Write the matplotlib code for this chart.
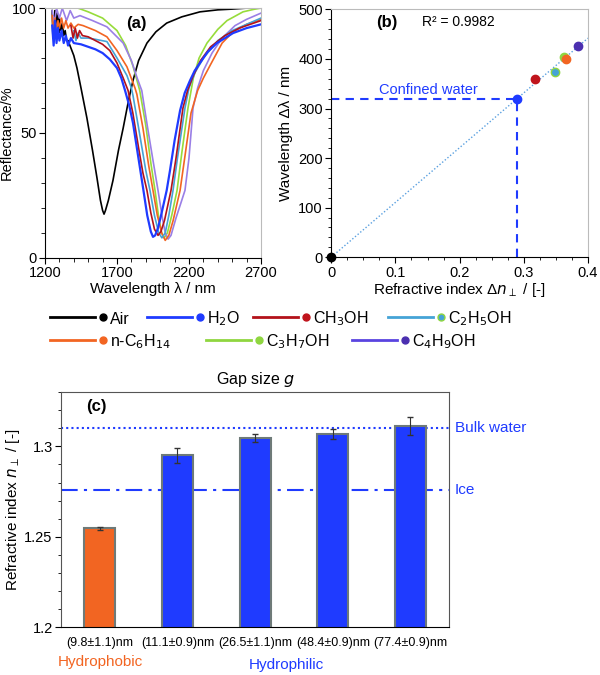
import numpy as np
import matplotlib
matplotlib.use("Agg")
import matplotlib.pyplot as plt
from matplotlib.lines import Line2D

plt.rcParams['font.family'] = ['Liberation Sans', 'DejaVu Sans']

# ---------- data: (a) reflectance spectra ----------
air_wl = [1250, 1255, 1260, 1265, 1270, 1275, 1280, 1285, 1290, 1295, 1300, 1310, 1320, 1330, 1340, 1350,
          1360, 1380, 1400, 1422, 1450, 1491, 1530, 1561, 1585, 1600, 1610, 1620, 1640, 1672, 1710, 1743,
          1780, 1811, 1850, 1908, 1970, 2045, 2150, 2276, 2400, 2500, 2600, 2700]
air_r = [99, 88, 97, 90, 99, 91, 98, 92, 97, 90, 96, 91, 94, 89, 91, 87,
         87, 84, 81, 76, 68, 56, 43, 32, 23, 19, 17.5, 19, 23, 31, 43, 52,
         63, 71, 79, 86, 90.5, 94, 96.5, 98.5, 99.3, 99.6, 100, 100]

h2o_wl = [1250, 1260, 1270, 1280, 1290, 1300, 1315, 1330, 1345, 1360, 1380, 1400, 1450, 1500, 1550, 1600,
          1650, 1700, 1730, 1756, 1785, 1811, 1846, 1881, 1910, 1935, 1950, 1965, 1985, 2010, 2045, 2068,
          2100, 2138, 2170, 2207, 2240, 2276, 2330, 2394, 2506, 2600, 2700]
h2o_r = [93, 85, 95, 86, 92, 87, 91, 86, 89, 85, 88, 86, 85.5, 84.5, 83.5, 82,
         79.5, 76, 72, 67, 61, 54, 41, 28, 17, 10.5, 8.4, 9, 12, 18, 27, 35,
         47, 59, 66, 71, 75, 78, 82.5, 86, 90, 92, 93.5]

meoh_wl = [1380, 1395, 1410, 1425, 1440, 1460, 1500, 1550, 1600, 1650, 1700, 1743, 1777, 1810, 1850, 1880,
           1908, 1935, 1960, 1985, 2005, 2030, 2075, 2110, 2158, 2190, 2230, 2280, 2350, 2450, 2550, 2700]
meoh_r = [93, 88, 92, 88, 91, 89, 88.5, 87, 85.5, 83, 78, 72, 67, 58, 44, 34,
          27, 18, 11.5, 9, 10.5, 15, 27, 40, 60, 67, 73, 79, 84.5, 89, 92, 95]

etoh_wl = [1400, 1415, 1430, 1450, 1500, 1550, 1630, 1700, 1769, 1800, 1811, 1850, 1900, 1929, 1960, 1990,
           2012, 2035, 2060, 2089, 2120, 2172, 2200, 2240, 2300, 2400, 2500, 2600, 2700]
etoh_r = [91, 87, 90, 88, 88, 87.5, 86.6, 80, 73, 68, 65, 52, 35, 27, 17, 10,
          8, 10, 17, 27, 40, 60, 68, 74, 80, 87, 91, 93.5, 96]

hex_wl = [1250, 1260, 1270, 1280, 1290, 1300, 1315, 1330, 1345, 1360, 1380, 1400, 1430, 1464, 1550, 1630,
          1700, 1769, 1825, 1838, 1880, 1920, 1950, 1980, 2010, 2035, 2060, 2090, 2138, 2175, 2214, 2260,
          2300, 2346, 2430, 2506, 2600, 2700]
hex_r = [97, 90, 96, 91, 95, 92, 96, 92, 95, 92, 94, 92, 93.5, 93, 91, 88.5,
         83, 76.5, 68, 65.5, 52, 37, 27, 17, 10, 7, 9, 15, 27, 42, 58, 67,
         72, 77, 86, 90.5, 93.5, 95.5]

prop_wl = [1330, 1429, 1500, 1600, 1700, 1760, 1810, 1858, 1900, 1935, 1964, 1990, 2010, 2028, 2050, 2080,
           2117, 2150, 2193, 2230, 2270, 2325, 2400, 2464, 2575, 2650, 2700]
prop_r = [100, 100, 98.5, 96, 91, 85, 77, 67, 53, 38, 27, 16, 10, 8, 10, 17,
          27, 42, 60, 72, 80, 86, 91.5, 95, 98.5, 99.5, 100]

but_wl = [1250, 1265, 1280, 1300, 1320, 1350, 1375, 1400, 1443, 1530, 1630, 1743, 1800, 1840, 1872, 1910,
          1950, 1985, 2015, 2035, 2055, 2075, 2110, 2172, 2200, 2228, 2260, 2300, 2360, 2430, 2520, 2600, 2700]
but_r = [99, 94, 100, 96, 100, 95, 99, 96, 97, 95, 92.5, 86, 79, 72, 67, 53,
         39, 27, 16, 10, 7.5, 9, 16, 27, 40, 60, 68, 75, 82, 88, 93, 95.5, 98]

# ---------- data: (b) wavelength shift vs refractive index ----------
liquids = ['Air', 'H$_2$O', 'CH$_3$OH', 'C$_2$H$_5$OH', 'n-C$_6$H$_{14}$', 'C$_3$H$_7$OH', 'C$_4$H$_9$OH']
dn = [0.0, 0.290, 0.318, 0.348, 0.366, 0.362, 0.384]
dlam = [0, 320, 360, 374, 400, 405, 427]

# ---------- data: (c) refractive index per gap ----------
gaps = ['(9.8±1.1)nm', '(11.1±0.9)nm', '(26.5±1.1)nm', '(48.4±0.9)nm', '(77.4±0.9)nm']
n_perp = [1.2546, 1.2950, 1.3044, 1.3069, 1.3115]
n_err = [0.0008, 0.0042, 0.0022, 0.0027, 0.0050]
n_bulk = 1.3104
n_ice = 1.2756

line_colors = ['black', '#1f3bff', '#b3121a', '#45a3d6', '#f26522', '#97dc3a', '#9a7fe6']
dot_colors = ['black', '#1f3bff', '#c0141c', '#45a3d6', '#f26522', '#8fd640', '#4b2fb0']
legend_line_colors = ['black', '#1f3bff', '#b3121a', '#45a3d6', '#f26522', '#8fd640', '#5a44e0']
blue = '#1f3bff'
orange = '#f26522'

fig = plt.figure(figsize=(6, 6.75), dpi=100)

# ---------- (a) ----------
ax1 = fig.add_axes([0.075, 0.618, 0.36, 0.370])
spectra = [(air_wl, air_r), (h2o_wl, h2o_r), (meoh_wl, meoh_r), (etoh_wl, etoh_r),
           (hex_wl, hex_r), (prop_wl, prop_r), (but_wl, but_r)]
draw_order = [0, 5, 6, 4, 3, 2, 1]
for i in draw_order:
    wl, r = spectra[i]
    ax1.plot(wl, r, color=line_colors[i], lw=1.6 if i == 1 else 1.2)
ax1.set_xlim(1200, 2700)
ax1.set_ylim(0, 100)
ax1.set_xticks([1200, 1700, 2200, 2700])
ax1.set_xticks(np.arange(1200, 2701, 100), minor=True)
ax1.set_yticks([0, 50, 100])
ax1.set_yticks(np.arange(0, 101, 10), minor=True)
ax1.tick_params(labelsize=10.5, length=4, pad=2)
ax1.tick_params(which='minor', length=3)
ax1.set_xlabel('Wavelength λ / nm', fontsize=11, labelpad=1)
ax1.set_ylabel('Reflectance/%', fontsize=10.5)
ax1.yaxis.set_label_coords(-0.143, 0.5)
ax1.spines['top'].set_color('#bbbbbb')
ax1.spines['right'].set_color('#bbbbbb')
ax1.text(1838, 94, '(a)', fontsize=12, fontweight='bold', ha='center', va='center')

# ---------- (b) ----------
ax2 = fig.add_axes([0.552, 0.619, 0.428, 0.367])
x_fit = np.array(dn[1:])
y_fit = np.array(dlam[1:])
slope = np.sum(x_fit * y_fit) / np.sum(x_fit ** 2)
xs = np.array([0, 0.4])
ax2.plot(xs, slope * xs, color='#5aa0e0', lw=1, ls=(0, (1, 1.5)))
ax2.plot([0, dn[1]], [dlam[1], dlam[1]], color=blue, lw=1.5, ls=(0, (4, 3)))
ax2.plot([dn[1], dn[1]], [0, dlam[1]], color=blue, lw=1.5, ls=(0, (4, 3)))
for i in [0, 1, 2, 5, 3, 4, 6]:
    ec = '#8fd640' if i == 3 else dot_colors[i]
    ax2.plot(dn[i], dlam[i], 'o', color=dot_colors[i], mec=ec, ms=6, clip_on=False, zorder=5)
ax2.set_xlim(0, 0.4)
ax2.set_ylim(0, 500)
ax2.set_xticks([0, 0.1, 0.2, 0.3, 0.4])
ax2.set_xticklabels(['0', '0.1', '0.2', '0.3', '0.4'])
ax2.set_xticks(np.arange(0, 0.401, 0.025), minor=True)
ax2.set_yticks(np.arange(0, 501, 100))
ax2.set_yticks(np.arange(0, 501, 20), minor=True)
ax2.tick_params(labelsize=10.5, length=4, pad=2)
ax2.tick_params(which='minor', length=2.5)
ax2.set_xlabel('Refractive index Δ$n_{\\perp}$ / [-]', fontsize=11, labelpad=1)
ax2.set_ylabel('Wavelength Δλ / nm', fontsize=11, labelpad=4)
ax2.spines['top'].set_color('#bbbbbb')
ax2.spines['right'].set_color('#bbbbbb')
ax2.text(0.087, 474, '(b)', fontsize=12, fontweight='bold', ha='center', va='center')
ax2.text(0.198, 474, 'R² = 0.9982', fontsize=10, ha='center', va='center')
ax2.text(0.151, 337, 'Confined water', fontsize=10.5, color=blue, ha='center', va='center')

# ---------- legend ----------
legend_rows = [[(0, 50), (1, 147), (2, 253), (3, 388)],
               [(4, 50), (5, 206), (6, 352)]]
row_y = [317, 340]
for row, ypx in zip(legend_rows, row_y):
    fy = 1 - ypx / 675
    for i, xpx in row:
        fig.add_artist(Line2D([xpx / 600, (xpx + 45) / 600], [fy, fy], color=legend_line_colors[i], lw=2))
        ec = '#8fd640' if i == 3 else dot_colors[i]
        fig.add_artist(Line2D([(xpx + 53) / 600], [fy], marker='o', ms=5, color=dot_colors[i], mec=ec))
        fig.text((xpx + 60) / 600, fy - 0.003, liquids[i], fontsize=11.5, ha='left', va='center')

# ---------- (c) ----------
ax3 = fig.add_axes([0.1017, 0.071, 0.647, 0.348])
pos = np.arange(len(gaps))
bar_colors = [orange] + [blue] * 4
ax3.bar(pos, n_perp, width=0.4, color=bar_colors, edgecolor='#6e7a78', lw=1.5, zorder=2)
ax3.errorbar(pos, n_perp, yerr=n_err, fmt='none', ecolor='#333333', elinewidth=0.8, capsize=2, zorder=3)
ax3.axhline(n_bulk, color=blue, lw=1.5, ls=(0, (1, 1.5)), zorder=1)
ax3.axhline(n_ice, color=blue, lw=1.5, ls=(0, (8, 3, 1.5, 3)), zorder=1)
ax3.set_xlim(-0.5, 4.5)
ax3.set_ylim(1.2, 1.33)
ax3.set_yticks([1.2, 1.25, 1.3])
ax3.set_yticklabels(['1.2', '1.25', '1.3'])
ax3.set_yticks(np.arange(1.2, 1.331, 0.01), minor=True)
ax3.set_xticks(pos)
ax3.set_xticklabels(gaps, fontsize=9)
ax3.tick_params(axis='x', length=0, pad=7)
ax3.tick_params(axis='y', labelsize=10.5, length=4, pad=2)
ax3.tick_params(axis='y', which='minor', length=2.5)
for s in ['top', 'right', 'left']:
    ax3.spines[s].set_color('#555555')
ax3.set_ylabel('Refractive index $n_{\\perp}$ / [-]', fontsize=11)
ax3.yaxis.set_label_coords(-0.1, 0.5)
ax3.set_title('Gap size $g$', fontsize=11.5, pad=6)
ax3.text(-0.04, 1.3222, '(c)', fontsize=12, fontweight='bold', ha='center', va='center')
ax3.text(1.015, n_bulk, 'Bulk water', transform=ax3.get_yaxis_transform(), color=blue,
         fontsize=11, ha='left', va='center')
ax3.text(1.015, n_ice, 'Ice', transform=ax3.get_yaxis_transform(), color=blue,
         fontsize=11, ha='left', va='center')
fig.text(100 / 600, 1 - 662 / 675, 'Hydrophobic', color=orange, fontsize=11, ha='center', va='center')
fig.text(286 / 600, 1 - 665 / 675, 'Hydrophilic', color=blue, fontsize=11, ha='center', va='center')

fig.savefig('out.png', dpi=100)
